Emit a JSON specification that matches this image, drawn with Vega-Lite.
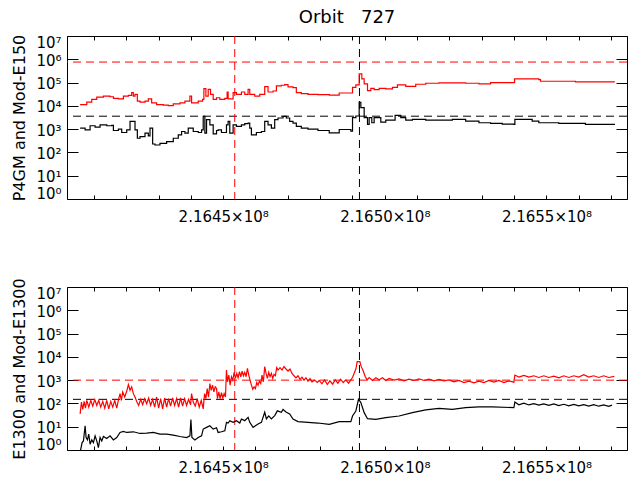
{
  "$schema": "https://vega.github.io/schema/vega-lite/v6.json",
  "background": "white",
  "padding": {"left": 11, "right": 7, "top": 8, "bottom": 5},
  "spacing": 52,
  "config": {
    "font": "DejaVu Sans",
    "view": {"stroke": "black", "strokeWidth": 1},
    "axis": {
      "domain": false, "grid": false,
      "labelFont": "DejaVu Sans", "labelFontSize": 15, "labelColor": "black",
      "tickColor": "black", "tickWidth": 1,
      "titleFont": "DejaVu Sans", "titleFontSize": 16, "titleFontWeight": "normal", "titleColor": "black",
      "labelOverlap": false
    },
    "title": {"font": "DejaVu Sans", "fontSize": 18, "fontWeight": "normal", "color": "black"}
  },
  "datasets": {
    "axes": [{"t": 216450000, "v": 1000}],
    "vlines": [{"t": 216453580, "s": "red"}, {"t": 216492155, "s": "black"}],
    "hTop": [{"v": 760000, "s": "red"}, {"v": 3600, "s": "black"}],
    "hBottom": [{"v": 1000, "s": "red"}, {"v": 150, "s": "black"}],
    "top": [
      {"t": 216405758, "v": 11400, "s": "red"}, {"t": 216406787, "v": 11400, "s": "red"}, {"t": 216407816, "v": 14400, "s": "red"},
      {"t": 216409360, "v": 18800, "s": "red"}, {"t": 216410903, "v": 23800, "s": "red"}, {"t": 216412961, "v": 26300, "s": "red"},
      {"t": 216415019, "v": 24600, "s": "red"}, {"t": 216416048, "v": 20800, "s": "red"}, {"t": 216417592, "v": 20100, "s": "red"},
      {"t": 216419135, "v": 26300, "s": "red"}, {"t": 216420679, "v": 28100, "s": "red"}, {"t": 216421708, "v": 36700, "s": "red"},
      {"t": 216422222, "v": 26300, "s": "red"}, {"t": 216422737, "v": 31100, "s": "red"}, {"t": 216423457, "v": 16000, "s": "red"},
      {"t": 216424280, "v": 14400, "s": "red"}, {"t": 216425824, "v": 16000, "s": "red"}, {"t": 216426853, "v": 20100, "s": "red"},
      {"t": 216427882, "v": 13500, "s": "red"}, {"t": 216429425, "v": 11400, "s": "red"}, {"t": 216431483, "v": 10700, "s": "red"},
      {"t": 216433027, "v": 10300, "s": "red"}, {"t": 216434570, "v": 12200, "s": "red"}, {"t": 216436628, "v": 13500, "s": "red"},
      {"t": 216438172, "v": 16000, "s": "red"}, {"t": 216439715, "v": 26300, "s": "red"}, {"t": 216440230, "v": 13500, "s": "red"},
      {"t": 216442288, "v": 16000, "s": "red"}, {"t": 216443625, "v": 18800, "s": "red"}, {"t": 216444037, "v": 54800, "s": "red"},
      {"t": 216444654, "v": 26300, "s": "red"}, {"t": 216445375, "v": 51300, "s": "red"}, {"t": 216446095, "v": 31100, "s": "red"},
      {"t": 216446918, "v": 18800, "s": "red"}, {"t": 216447947, "v": 22300, "s": "red"}, {"t": 216448962, "v": 18800, "s": "red"},
      {"t": 216450505, "v": 20800, "s": "red"}, {"t": 216451225, "v": 39300, "s": "red"}, {"t": 216451534, "v": 20100, "s": "red"},
      {"t": 216453078, "v": 36700, "s": "red"}, {"t": 216454107, "v": 31100, "s": "red"}, {"t": 216455650, "v": 39300, "s": "red"},
      {"t": 216456679, "v": 31100, "s": "red"}, {"t": 216457708, "v": 51300, "s": "red"}, {"t": 216458223, "v": 31100, "s": "red"},
      {"t": 216459766, "v": 26300, "s": "red"}, {"t": 216461310, "v": 31100, "s": "red"}, {"t": 216462853, "v": 67000, "s": "red"},
      {"t": 216463882, "v": 39300, "s": "red"}, {"t": 216465426, "v": 43400, "s": "red"}, {"t": 216466455, "v": 71600, "s": "red"},
      {"t": 216467998, "v": 76600, "s": "red"}, {"t": 216469027, "v": 81900, "s": "red"}, {"t": 216470056, "v": 64800, "s": "red"},
      {"t": 216471600, "v": 60600, "s": "red"}, {"t": 216472629, "v": 36700, "s": "red"}, {"t": 216474172, "v": 33200, "s": "red"},
      {"t": 216476230, "v": 31100, "s": "red"}, {"t": 216479317, "v": 30100, "s": "red"}, {"t": 216482805, "v": 29100, "s": "red"},
      {"t": 216485892, "v": 35600, "s": "red"}, {"t": 216489494, "v": 35600, "s": "red"}, {"t": 216490008, "v": 62700, "s": "red"},
      {"t": 216491037, "v": 79300, "s": "red"}, {"t": 216492066, "v": 238000, "s": "red"}, {"t": 216492889, "v": 144000, "s": "red"},
      {"t": 216493610, "v": 87500, "s": "red"}, {"t": 216494639, "v": 44900, "s": "red"}, {"t": 216495668, "v": 56800, "s": "red"},
      {"t": 216496697, "v": 49700, "s": "red"}, {"t": 216498240, "v": 56800, "s": "red"}, {"t": 216500298, "v": 53100, "s": "red"},
      {"t": 216502356, "v": 62700, "s": "red"}, {"t": 216503900, "v": 79300, "s": "red"}, {"t": 216506472, "v": 69300, "s": "red"},
      {"t": 216509559, "v": 84700, "s": "red"}, {"t": 216512646, "v": 93500, "s": "red"}, {"t": 216516762, "v": 96800, "s": "red"},
      {"t": 216520878, "v": 96800, "s": "red"}, {"t": 216524994, "v": 93500, "s": "red"}, {"t": 216529110, "v": 87500, "s": "red"},
      {"t": 216532712, "v": 100000, "s": "red"}, {"t": 216539915, "v": 100000, "s": "red"}, {"t": 216540120, "v": 144000, "s": "red"},
      {"t": 216547632, "v": 135000, "s": "red"}, {"t": 216548147, "v": 114000, "s": "red"}, {"t": 216558951, "v": 107000, "s": "red"},
      {"t": 216570990, "v": 103000, "s": "red"},
      {"t": 216405758, "v": 1100, "s": "black"}, {"t": 216407302, "v": 935, "s": "black"}, {"t": 216408845, "v": 1400, "s": "black"},
      {"t": 216410389, "v": 1220, "s": "black"}, {"t": 216411932, "v": 1540, "s": "black"}, {"t": 216413990, "v": 1400, "s": "black"},
      {"t": 216415534, "v": 1440, "s": "black"}, {"t": 216416048, "v": 875, "s": "black"}, {"t": 216417592, "v": 1000, "s": "black"},
      {"t": 216418621, "v": 716, "s": "black"}, {"t": 216420164, "v": 935, "s": "black"}, {"t": 216421193, "v": 2150, "s": "black"},
      {"t": 216422016, "v": 2150, "s": "black"}, {"t": 216422737, "v": 935, "s": "black"}, {"t": 216423457, "v": 406, "s": "black"},
      {"t": 216424280, "v": 480, "s": "black"}, {"t": 216425824, "v": 670, "s": "black"}, {"t": 216426853, "v": 513, "s": "black"},
      {"t": 216427367, "v": 1100, "s": "black"}, {"t": 216428190, "v": 230, "s": "black"}, {"t": 216428911, "v": 208, "s": "black"},
      {"t": 216430454, "v": 246, "s": "black"}, {"t": 216432512, "v": 291, "s": "black"}, {"t": 216434570, "v": 406, "s": "black"},
      {"t": 216436114, "v": 567, "s": "black"}, {"t": 216437143, "v": 792, "s": "black"}, {"t": 216438172, "v": 670, "s": "black"},
      {"t": 216439201, "v": 1100, "s": "black"}, {"t": 216440744, "v": 792, "s": "black"}, {"t": 216442288, "v": 716, "s": "black"},
      {"t": 216443317, "v": 935, "s": "black"}, {"t": 216443831, "v": 3560, "s": "black"}, {"t": 216444346, "v": 670, "s": "black"},
      {"t": 216444860, "v": 2540, "s": "black"}, {"t": 216445889, "v": 1540, "s": "black"}, {"t": 216446918, "v": 627, "s": "black"},
      {"t": 216447947, "v": 875, "s": "black"}, {"t": 216448447, "v": 935, "s": "black"}, {"t": 216449476, "v": 716, "s": "black"},
      {"t": 216451020, "v": 1540, "s": "black"}, {"t": 216451534, "v": 2150, "s": "black"}, {"t": 216452049, "v": 670, "s": "black"},
      {"t": 216453078, "v": 1540, "s": "black"}, {"t": 216454107, "v": 1310, "s": "black"}, {"t": 216455650, "v": 1540, "s": "black"},
      {"t": 216456679, "v": 1710, "s": "black"}, {"t": 216457708, "v": 1820, "s": "black"}, {"t": 216458223, "v": 1100, "s": "black"},
      {"t": 216458737, "v": 567, "s": "black"}, {"t": 216460281, "v": 716, "s": "black"}, {"t": 216461824, "v": 792, "s": "black"},
      {"t": 216462853, "v": 2150, "s": "black"}, {"t": 216463882, "v": 1540, "s": "black"}, {"t": 216464911, "v": 1100, "s": "black"},
      {"t": 216465940, "v": 2540, "s": "black"}, {"t": 216466969, "v": 3010, "s": "black"}, {"t": 216468513, "v": 3560, "s": "black"},
      {"t": 216469542, "v": 3010, "s": "black"}, {"t": 216470571, "v": 2150, "s": "black"}, {"t": 216471600, "v": 1820, "s": "black"},
      {"t": 216472629, "v": 1310, "s": "black"}, {"t": 216474172, "v": 1100, "s": "black"}, {"t": 216476230, "v": 1000, "s": "black"},
      {"t": 216479317, "v": 875, "s": "black"}, {"t": 216482805, "v": 693, "s": "black"}, {"t": 216485892, "v": 967, "s": "black"},
      {"t": 216489494, "v": 819, "s": "black"}, {"t": 216490008, "v": 3110, "s": "black"}, {"t": 216491037, "v": 3670, "s": "black"},
      {"t": 216492066, "v": 14000, "s": "black"}, {"t": 216492580, "v": 8470, "s": "black"}, {"t": 216493610, "v": 3110, "s": "black"},
      {"t": 216494639, "v": 1600, "s": "black"}, {"t": 216495153, "v": 3110, "s": "black"}, {"t": 216495976, "v": 1880, "s": "black"},
      {"t": 216496697, "v": 3110, "s": "black"}, {"t": 216497726, "v": 3110, "s": "black"}, {"t": 216498755, "v": 2010, "s": "black"},
      {"t": 216500298, "v": 2460, "s": "black"}, {"t": 216501842, "v": 2460, "s": "black"}, {"t": 216503179, "v": 3930, "s": "black"},
      {"t": 216504929, "v": 3110, "s": "black"}, {"t": 216506472, "v": 2460, "s": "black"}, {"t": 216508530, "v": 2630, "s": "black"},
      {"t": 216512646, "v": 2460, "s": "black"}, {"t": 216516762, "v": 2460, "s": "black"}, {"t": 216520878, "v": 2630, "s": "black"},
      {"t": 216524994, "v": 2230, "s": "black"}, {"t": 216529110, "v": 1880, "s": "black"}, {"t": 216532712, "v": 1760, "s": "black"},
      {"t": 216536313, "v": 1650, "s": "black"}, {"t": 216539915, "v": 1600, "s": "black"}, {"t": 216540223, "v": 2630, "s": "black"},
      {"t": 216545574, "v": 2230, "s": "black"}, {"t": 216547632, "v": 1880, "s": "black"}, {"t": 216553806, "v": 1760, "s": "black"},
      {"t": 216562038, "v": 1600, "s": "black"}, {"t": 216570990, "v": 1490, "s": "black"}
    ],
    "bottom": [
      {"t": 216405758, "v": 35.6, "s": "red"}, {"t": 216406170, "v": 114, "s": "red"}, {"t": 216406581, "v": 54.8, "s": "red"},
      {"t": 216406993, "v": 122, "s": "red"}, {"t": 216407404, "v": 62.7, "s": "red"}, {"t": 216407816, "v": 135, "s": "red"},
      {"t": 216408433, "v": 69.3, "s": "red"}, {"t": 216409051, "v": 135, "s": "red"}, {"t": 216409668, "v": 76.6, "s": "red"},
      {"t": 216410286, "v": 149, "s": "red"}, {"t": 216410903, "v": 81.9, "s": "red"}, {"t": 216411520, "v": 135, "s": "red"},
      {"t": 216412138, "v": 69.3, "s": "red"}, {"t": 216412755, "v": 122, "s": "red"}, {"t": 216413373, "v": 62.7, "s": "red"},
      {"t": 216413990, "v": 135, "s": "red"}, {"t": 216414607, "v": 58.6, "s": "red"}, {"t": 216415225, "v": 122, "s": "red"},
      {"t": 216415842, "v": 69.3, "s": "red"}, {"t": 216416460, "v": 135, "s": "red"}, {"t": 216417077, "v": 62.7, "s": "red"},
      {"t": 216417694, "v": 160, "s": "red"}, {"t": 216418106, "v": 263, "s": "red"}, {"t": 216418518, "v": 135, "s": "red"},
      {"t": 216418929, "v": 311, "s": "red"}, {"t": 216419547, "v": 188, "s": "red"}, {"t": 216420164, "v": 332, "s": "red"},
      {"t": 216420679, "v": 649, "s": "red"}, {"t": 216421193, "v": 367, "s": "red"}, {"t": 216421708, "v": 513, "s": "red"},
      {"t": 216422222, "v": 263, "s": "red"}, {"t": 216422737, "v": 188, "s": "red"}, {"t": 216423251, "v": 122, "s": "red"},
      {"t": 216423868, "v": 81.9, "s": "red"}, {"t": 216424486, "v": 149, "s": "red"}, {"t": 216425103, "v": 87.5, "s": "red"},
      {"t": 216425721, "v": 160, "s": "red"}, {"t": 216426338, "v": 96.8, "s": "red"}, {"t": 216426955, "v": 171, "s": "red"},
      {"t": 216427573, "v": 81.9, "s": "red"}, {"t": 216428190, "v": 149, "s": "red"}, {"t": 216428808, "v": 69.3, "s": "red"},
      {"t": 216429425, "v": 188, "s": "red"}, {"t": 216430042, "v": 62.7, "s": "red"}, {"t": 216430660, "v": 160, "s": "red"},
      {"t": 216431277, "v": 58.6, "s": "red"}, {"t": 216431895, "v": 171, "s": "red"}, {"t": 216432512, "v": 69.3, "s": "red"},
      {"t": 216433129, "v": 160, "s": "red"}, {"t": 216433747, "v": 76.6, "s": "red"}, {"t": 216434364, "v": 171, "s": "red"},
      {"t": 216434982, "v": 81.9, "s": "red"}, {"t": 216435599, "v": 160, "s": "red"}, {"t": 216436216, "v": 69.3, "s": "red"},
      {"t": 216436834, "v": 171, "s": "red"}, {"t": 216437451, "v": 76.6, "s": "red"}, {"t": 216438069, "v": 160, "s": "red"},
      {"t": 216438686, "v": 81.9, "s": "red"}, {"t": 216439303, "v": 149, "s": "red"}, {"t": 216439921, "v": 87.5, "s": "red"},
      {"t": 216440230, "v": 263, "s": "red"}, {"t": 216440744, "v": 114, "s": "red"}, {"t": 216441361, "v": 76.6, "s": "red"},
      {"t": 216441979, "v": 160, "s": "red"}, {"t": 216442596, "v": 69.3, "s": "red"}, {"t": 216443214, "v": 135, "s": "red"},
      {"t": 216443831, "v": 58.6, "s": "red"}, {"t": 216444243, "v": 263, "s": "red"}, {"t": 216444654, "v": 160, "s": "red"},
      {"t": 216445066, "v": 434, "s": "red"}, {"t": 216445477, "v": 188, "s": "red"}, {"t": 216445889, "v": 717, "s": "red"},
      {"t": 216446301, "v": 367, "s": "red"}, {"t": 216446712, "v": 607, "s": "red"}, {"t": 216447124, "v": 311, "s": "red"},
      {"t": 216447535, "v": 513, "s": "red"}, {"t": 216447947, "v": 434, "s": "red"}, {"t": 216448241, "v": 160, "s": "red"},
      {"t": 216448653, "v": 311, "s": "red"}, {"t": 216449064, "v": 160, "s": "red"}, {"t": 216449476, "v": 291, "s": "red"},
      {"t": 216449888, "v": 171, "s": "red"}, {"t": 216450299, "v": 263, "s": "red"}, {"t": 216450711, "v": 188, "s": "red"},
      {"t": 216451020, "v": 2720, "s": "red"}, {"t": 216451328, "v": 847, "s": "red"}, {"t": 216451740, "v": 1650, "s": "red"},
      {"t": 216452151, "v": 607, "s": "red"}, {"t": 216452563, "v": 1400, "s": "red"}, {"t": 216452975, "v": 1000, "s": "red"},
      {"t": 216453386, "v": 2150, "s": "red"}, {"t": 216453798, "v": 1180, "s": "red"}, {"t": 216454209, "v": 1950, "s": "red"},
      {"t": 216454621, "v": 1260, "s": "red"}, {"t": 216455033, "v": 2300, "s": "red"}, {"t": 216455444, "v": 1400, "s": "red"},
      {"t": 216455856, "v": 2460, "s": "red"}, {"t": 216456267, "v": 1540, "s": "red"}, {"t": 216456679, "v": 2150, "s": "red"},
      {"t": 216457091, "v": 1400, "s": "red"}, {"t": 216457502, "v": 3210, "s": "red"}, {"t": 216457914, "v": 1650, "s": "red"},
      {"t": 216458325, "v": 1000, "s": "red"}, {"t": 216458737, "v": 607, "s": "red"}, {"t": 216459149, "v": 406, "s": "red"},
      {"t": 216459560, "v": 513, "s": "red"}, {"t": 216459972, "v": 434, "s": "red"}, {"t": 216460383, "v": 792, "s": "red"},
      {"t": 216460795, "v": 607, "s": "red"}, {"t": 216461207, "v": 906, "s": "red"}, {"t": 216461618, "v": 717, "s": "red"},
      {"t": 216462030, "v": 1650, "s": "red"}, {"t": 216462441, "v": 847, "s": "red"}, {"t": 216462853, "v": 3800, "s": "red"},
      {"t": 216463265, "v": 1950, "s": "red"}, {"t": 216463676, "v": 1180, "s": "red"}, {"t": 216464088, "v": 2150, "s": "red"},
      {"t": 216464499, "v": 1400, "s": "red"}, {"t": 216464911, "v": 1950, "s": "red"}, {"t": 216465323, "v": 1180, "s": "red"},
      {"t": 216465734, "v": 1760, "s": "red"}, {"t": 216466146, "v": 1540, "s": "red"}, {"t": 216466557, "v": 3440, "s": "red"},
      {"t": 216466969, "v": 2720, "s": "red"}, {"t": 216467586, "v": 3440, "s": "red"}, {"t": 216468204, "v": 2720, "s": "red"},
      {"t": 216468821, "v": 3800, "s": "red"}, {"t": 216469439, "v": 3010, "s": "red"}, {"t": 216470056, "v": 2460, "s": "red"},
      {"t": 216470673, "v": 3010, "s": "red"}, {"t": 216471291, "v": 1950, "s": "red"}, {"t": 216471908, "v": 1540, "s": "red"},
      {"t": 216472526, "v": 1260, "s": "red"}, {"t": 216473143, "v": 1540, "s": "red"}, {"t": 216473761, "v": 1100, "s": "red"},
      {"t": 216474378, "v": 1350, "s": "red"}, {"t": 216474996, "v": 1000, "s": "red"}, {"t": 216475613, "v": 1260, "s": "red"},
      {"t": 216476230, "v": 906, "s": "red"}, {"t": 216476848, "v": 1180, "s": "red"}, {"t": 216477465, "v": 847, "s": "red"},
      {"t": 216478288, "v": 1000, "s": "red"}, {"t": 216479111, "v": 792, "s": "red"}, {"t": 216479718, "v": 968, "s": "red"},
      {"t": 216480541, "v": 695, "s": "red"}, {"t": 216481364, "v": 1030, "s": "red"}, {"t": 216482188, "v": 650, "s": "red"},
      {"t": 216483011, "v": 936, "s": "red"}, {"t": 216483834, "v": 672, "s": "red"}, {"t": 216484657, "v": 1030, "s": "red"},
      {"t": 216485480, "v": 743, "s": "red"}, {"t": 216486304, "v": 1100, "s": "red"}, {"t": 216487127, "v": 792, "s": "red"},
      {"t": 216487950, "v": 1030, "s": "red"}, {"t": 216488773, "v": 743, "s": "red"}, {"t": 216489494, "v": 1030, "s": "red"},
      {"t": 216490008, "v": 1300, "s": "red"}, {"t": 216491037, "v": 2990, "s": "red"}, {"t": 216491449, "v": 6180, "s": "red"},
      {"t": 216492272, "v": 6180, "s": "red"}, {"t": 216492683, "v": 3890, "s": "red"}, {"t": 216493301, "v": 2530, "s": "red"},
      {"t": 216493918, "v": 1440, "s": "red"}, {"t": 216494536, "v": 1030, "s": "red"}, {"t": 216495153, "v": 1300, "s": "red"},
      {"t": 216496182, "v": 968, "s": "red"}, {"t": 216497211, "v": 1260, "s": "red"}, {"t": 216498240, "v": 1030, "s": "red"},
      {"t": 216499269, "v": 1260, "s": "red"}, {"t": 216500298, "v": 968, "s": "red"}, {"t": 216501327, "v": 1180, "s": "red"},
      {"t": 216502871, "v": 1000, "s": "red"}, {"t": 216504414, "v": 1140, "s": "red"}, {"t": 216505958, "v": 936, "s": "red"},
      {"t": 216507501, "v": 1100, "s": "red"}, {"t": 216509045, "v": 968, "s": "red"}, {"t": 216510588, "v": 1140, "s": "red"},
      {"t": 216512132, "v": 968, "s": "red"}, {"t": 216513675, "v": 1100, "s": "red"}, {"t": 216515219, "v": 936, "s": "red"},
      {"t": 216516762, "v": 1070, "s": "red"}, {"t": 216518306, "v": 936, "s": "red"}, {"t": 216519849, "v": 1030, "s": "red"},
      {"t": 216521393, "v": 847, "s": "red"}, {"t": 216522936, "v": 968, "s": "red"}, {"t": 216524480, "v": 792, "s": "red"},
      {"t": 216526023, "v": 906, "s": "red"}, {"t": 216527567, "v": 767, "s": "red"}, {"t": 216529110, "v": 906, "s": "red"},
      {"t": 216530654, "v": 792, "s": "red"}, {"t": 216532197, "v": 968, "s": "red"}, {"t": 216533741, "v": 820, "s": "red"},
      {"t": 216535284, "v": 968, "s": "red"}, {"t": 216536828, "v": 792, "s": "red"}, {"t": 216538371, "v": 936, "s": "red"},
      {"t": 216539915, "v": 820, "s": "red"}, {"t": 216540223, "v": 1650, "s": "red"}, {"t": 216541458, "v": 1350, "s": "red"},
      {"t": 216543002, "v": 1590, "s": "red"}, {"t": 216544545, "v": 1350, "s": "red"}, {"t": 216546089, "v": 1540, "s": "red"},
      {"t": 216547632, "v": 1300, "s": "red"}, {"t": 216549176, "v": 1540, "s": "red"}, {"t": 216550719, "v": 1300, "s": "red"},
      {"t": 216552263, "v": 1490, "s": "red"}, {"t": 216553806, "v": 1260, "s": "red"}, {"t": 216555350, "v": 1540, "s": "red"},
      {"t": 216556893, "v": 1300, "s": "red"}, {"t": 216558437, "v": 1540, "s": "red"}, {"t": 216559980, "v": 1350, "s": "red"},
      {"t": 216561524, "v": 1700, "s": "red"}, {"t": 216563067, "v": 1350, "s": "red"}, {"t": 216564611, "v": 1540, "s": "red"},
      {"t": 216566154, "v": 1300, "s": "red"}, {"t": 216567698, "v": 1540, "s": "red"}, {"t": 216569241, "v": 1300, "s": "red"},
      {"t": 216570990, "v": 1440, "s": "red"},
      {"t": 216405758, "v": 0.8, "s": "black"}, {"t": 216406375, "v": 2.08, "s": "black"}, {"t": 216406787, "v": 2.46, "s": "black"},
      {"t": 216407302, "v": 11.0, "s": "black"}, {"t": 216407610, "v": 3.44, "s": "black"}, {"t": 216408022, "v": 2.72, "s": "black"},
      {"t": 216408433, "v": 4.80, "s": "black"}, {"t": 216408845, "v": 1.76, "s": "black"}, {"t": 216409360, "v": 2.72, "s": "black"},
      {"t": 216409874, "v": 2.08, "s": "black"}, {"t": 216410389, "v": 4.06, "s": "black"}, {"t": 216410903, "v": 2.46, "s": "black"},
      {"t": 216411418, "v": 1.26, "s": "black"}, {"t": 216411932, "v": 3.44, "s": "black"}, {"t": 216412447, "v": 2.46, "s": "black"},
      {"t": 216412961, "v": 3.80, "s": "black"}, {"t": 216413990, "v": 3.11, "s": "black"}, {"t": 216415019, "v": 4.06, "s": "black"},
      {"t": 216416048, "v": 2.72, "s": "black"}, {"t": 216417077, "v": 3.44, "s": "black"}, {"t": 216418106, "v": 5.67, "s": "black"},
      {"t": 216419135, "v": 6.27, "s": "black"}, {"t": 216420164, "v": 5.67, "s": "black"}, {"t": 216422222, "v": 6.06, "s": "black"},
      {"t": 216424280, "v": 5.13, "s": "black"}, {"t": 216426338, "v": 5.30, "s": "black"}, {"t": 216428396, "v": 5.67, "s": "black"},
      {"t": 216430454, "v": 4.80, "s": "black"}, {"t": 216432512, "v": 4.80, "s": "black"}, {"t": 216434570, "v": 4.34, "s": "black"},
      {"t": 216436628, "v": 3.80, "s": "black"}, {"t": 216438686, "v": 3.44, "s": "black"}, {"t": 216439715, "v": 4.06, "s": "black"},
      {"t": 216440024, "v": 20.1, "s": "black"}, {"t": 216440333, "v": 3.44, "s": "black"}, {"t": 216441259, "v": 2.72, "s": "black"},
      {"t": 216442288, "v": 3.44, "s": "black"}, {"t": 216443317, "v": 4.06, "s": "black"}, {"t": 216443831, "v": 7.92, "s": "black"},
      {"t": 216444860, "v": 9.35, "s": "black"}, {"t": 216445889, "v": 11.0, "s": "black"}, {"t": 216446918, "v": 7.92, "s": "black"},
      {"t": 216447947, "v": 9.0, "s": "black"}, {"t": 216448447, "v": 5.67, "s": "black"}, {"t": 216449476, "v": 6.06, "s": "black"},
      {"t": 216450505, "v": 6.70, "s": "black"}, {"t": 216451020, "v": 15.4, "s": "black"}, {"t": 216451534, "v": 14.4, "s": "black"},
      {"t": 216452049, "v": 18.2, "s": "black"}, {"t": 216453078, "v": 15.4, "s": "black"}, {"t": 216454107, "v": 18.2, "s": "black"},
      {"t": 216455136, "v": 14.4, "s": "black"}, {"t": 216455650, "v": 21.5, "s": "black"}, {"t": 216456679, "v": 18.2, "s": "black"},
      {"t": 216457708, "v": 25.4, "s": "black"}, {"t": 216458223, "v": 15.4, "s": "black"}, {"t": 216459252, "v": 9.35, "s": "black"},
      {"t": 216459972, "v": 11.0, "s": "black"}, {"t": 216460795, "v": 13.1, "s": "black"}, {"t": 216461824, "v": 15.4, "s": "black"},
      {"t": 216462853, "v": 42.0, "s": "black"}, {"t": 216463367, "v": 21.5, "s": "black"}, {"t": 216464088, "v": 29.1, "s": "black"},
      {"t": 216464911, "v": 21.5, "s": "black"}, {"t": 216465940, "v": 30.1, "s": "black"}, {"t": 216466763, "v": 48.0, "s": "black"},
      {"t": 216467998, "v": 42.0, "s": "black"}, {"t": 216468513, "v": 54.8, "s": "black"}, {"t": 216469542, "v": 42.0, "s": "black"},
      {"t": 216470571, "v": 35.6, "s": "black"}, {"t": 216471600, "v": 21.5, "s": "black"}, {"t": 216473143, "v": 16.5, "s": "black"},
      {"t": 216476230, "v": 15.4, "s": "black"}, {"t": 216479317, "v": 14.4, "s": "black"}, {"t": 216482805, "v": 12.6, "s": "black"},
      {"t": 216485892, "v": 16.4, "s": "black"}, {"t": 216489494, "v": 16.4, "s": "black"}, {"t": 216490008, "v": 28.8, "s": "black"},
      {"t": 216491037, "v": 47.4, "s": "black"}, {"t": 216491860, "v": 151, "s": "black"}, {"t": 216492580, "v": 109, "s": "black"},
      {"t": 216493610, "v": 40.2, "s": "black"}, {"t": 216494639, "v": 22.1, "s": "black"}, {"t": 216497211, "v": 20.7, "s": "black"},
      {"t": 216500298, "v": 24.5, "s": "black"}, {"t": 216504414, "v": 28.8, "s": "black"}, {"t": 216508530, "v": 40.2, "s": "black"},
      {"t": 216512646, "v": 52.4, "s": "black"}, {"t": 216516762, "v": 61.8, "s": "black"}, {"t": 216520878, "v": 55.9, "s": "black"},
      {"t": 216524994, "v": 66.1, "s": "black"}, {"t": 216529110, "v": 70.6, "s": "black"}, {"t": 216533227, "v": 70.6, "s": "black"},
      {"t": 216539915, "v": 66.1, "s": "black"}, {"t": 216540223, "v": 116, "s": "black"}, {"t": 216541458, "v": 88, "s": "black"},
      {"t": 216543002, "v": 102, "s": "black"}, {"t": 216544545, "v": 86, "s": "black"}, {"t": 216546089, "v": 98, "s": "black"},
      {"t": 216547632, "v": 85, "s": "black"}, {"t": 216549176, "v": 96, "s": "black"}, {"t": 216550719, "v": 83, "s": "black"},
      {"t": 216552263, "v": 95, "s": "black"}, {"t": 216553806, "v": 81, "s": "black"}, {"t": 216555350, "v": 92, "s": "black"},
      {"t": 216556893, "v": 79, "s": "black"}, {"t": 216558437, "v": 90, "s": "black"}, {"t": 216559980, "v": 78, "s": "black"},
      {"t": 216561524, "v": 89, "s": "black"}, {"t": 216563067, "v": 77, "s": "black"}, {"t": 216564611, "v": 88, "s": "black"},
      {"t": 216566154, "v": 76, "s": "black"}, {"t": 216567698, "v": 86, "s": "black"}, {"t": 216569241, "v": 75, "s": "black"},
      {"t": 216570270, "v": 84, "s": "black"}
    ]
  },
  "vconcat": [
    {
      "title": {"text": "Orbit\u00a0\u00a0\u00a0727", "offset": 7},
      "width": 560,
      "height": 163,
      "resolve": {"axis": {"x": "independent", "y": "independent"}},
      "layer": [
        {
          "data": {"name": "hTop"},
          "mark": {"type": "rule", "strokeDash": [8, 5], "strokeWidth": 1},
          "encoding": {
            "y": {"field": "v", "type": "quantitative", "scale": {"type": "log", "domain": [1, 10000000], "nice": false}, "axis": null},
            "color": {"field": "s", "type": "nominal", "scale": {"domain": ["red", "black"], "range": ["#ff0000", "#000000"]}, "legend": null}
          }
        },
        {
          "data": {"name": "vlines"},
          "mark": {"type": "rule", "strokeDash": [8, 5], "strokeWidth": 1},
          "encoding": {
            "x": {"field": "t", "type": "quantitative", "scale": {"domain": [216401700, 216574900], "nice": false, "zero": false}, "axis": null},
            "color": {"field": "s", "type": "nominal", "legend": null}
          }
        },
        {
          "data": {"name": "top"},
          "mark": {"type": "line", "interpolate": "step-after", "strokeWidth": 1.2, "clip": true},
          "encoding": {
            "x": {
              "field": "t", "type": "quantitative",
              "axis": {
                "orient": "bottom", "title": null, "offset": -4, "tickSize": 4, "labelPadding": 10, "labelFlush": false,
                "values": [216410000, 216420000, 216430000, 216440000, 216450000, 216460000, 216470000, 216480000, 216490000, 216500000, 216510000, 216520000, 216530000, 216540000, 216550000, 216560000, 216570000],
                "labelExpr": "datum.value % 50000 == 0 ? format(datum.value / 100000000, '.4f') + '×10⁸' : ''"
              }
            },
            "y": {
              "field": "v", "type": "quantitative",
              "axis": {
                "orient": "left", "title": "P4GM and Mod-E150", "titlePadding": 8, "offset": -11, "tickSize": 11, "labelPadding": 6, "labelFlush": false,
                "labelBaseline": "alphabetic",
                "labelOffset": {"condition": [{"test": "datum.value == 1", "value": -1}, {"test": "datum.value == 10000000", "value": 11}], "value": 6},
                "values": [1, 10, 100, 1000, 10000, 100000, 1000000, 10000000],
                "labelExpr": "'10' + substring('⁰¹²³⁴⁵⁶⁷', round(log(datum.value) / LN10), round(log(datum.value) / LN10) + 1)"
              }
            },
            "color": {"field": "s", "type": "nominal", "legend": null}
          }
        },
        {
          "data": {"name": "axes"},
          "mark": {"type": "point", "opacity": 0},
          "encoding": {
            "x": {"field": "t", "type": "quantitative", "axis": {"orient": "top", "title": null, "labels": false, "offset": -4, "tickSize": 4,
              "values": [216410000, 216420000, 216430000, 216440000, 216450000, 216460000, 216470000, 216480000, 216490000, 216500000, 216510000, 216520000, 216530000, 216540000, 216550000, 216560000, 216570000]}},
            "y": {"field": "v", "type": "quantitative", "axis": {"orient": "right", "title": null, "labels": false, "offset": -11, "tickSize": 11,
              "values": [1, 10, 100, 1000, 10000, 100000, 1000000, 10000000]}}
          }
        }
      ]
    },
    {
      "width": 560,
      "height": 163,
      "resolve": {"axis": {"x": "independent", "y": "independent"}},
      "layer": [
        {
          "data": {"name": "hBottom"},
          "mark": {"type": "rule", "strokeDash": [8, 5], "strokeWidth": 1},
          "encoding": {
            "y": {"field": "v", "type": "quantitative", "scale": {"type": "log", "domain": [1, 10000000], "nice": false}, "axis": null},
            "color": {"field": "s", "type": "nominal", "scale": {"domain": ["red", "black"], "range": ["#ff0000", "#000000"]}, "legend": null}
          }
        },
        {
          "data": {"name": "vlines"},
          "mark": {"type": "rule", "strokeDash": [8, 5], "strokeWidth": 1},
          "encoding": {
            "x": {"field": "t", "type": "quantitative", "scale": {"domain": [216401700, 216574900], "nice": false, "zero": false}, "axis": null},
            "color": {"field": "s", "type": "nominal", "legend": null}
          }
        },
        {
          "data": {"name": "bottom"},
          "mark": {"type": "line", "interpolate": "linear", "strokeWidth": 1.2, "clip": true},
          "encoding": {
            "x": {
              "field": "t", "type": "quantitative",
              "axis": {
                "orient": "bottom", "title": null, "offset": -4, "tickSize": 4, "labelPadding": 10, "labelFlush": false,
                "values": [216410000, 216420000, 216430000, 216440000, 216450000, 216460000, 216470000, 216480000, 216490000, 216500000, 216510000, 216520000, 216530000, 216540000, 216550000, 216560000, 216570000],
                "labelExpr": "datum.value % 50000 == 0 ? format(datum.value / 100000000, '.4f') + '×10⁸' : ''"
              }
            },
            "y": {
              "field": "v", "type": "quantitative",
              "axis": {
                "orient": "left", "title": "E1300 and Mod-E1300", "titlePadding": 8, "offset": -11, "tickSize": 11, "labelPadding": 6, "labelFlush": false,
                "labelBaseline": "alphabetic",
                "labelOffset": {"condition": [{"test": "datum.value == 1", "value": -1}, {"test": "datum.value == 10000000", "value": 11}], "value": 6},
                "values": [1, 10, 100, 1000, 10000, 100000, 1000000, 10000000],
                "labelExpr": "'10' + substring('⁰¹²³⁴⁵⁶⁷', round(log(datum.value) / LN10), round(log(datum.value) / LN10) + 1)"
              }
            },
            "color": {"field": "s", "type": "nominal", "legend": null}
          }
        },
        {
          "data": {"name": "axes"},
          "mark": {"type": "point", "opacity": 0},
          "encoding": {
            "x": {"field": "t", "type": "quantitative", "axis": {"orient": "top", "title": null, "labels": false, "offset": -4, "tickSize": 4,
              "values": [216410000, 216420000, 216430000, 216440000, 216450000, 216460000, 216470000, 216480000, 216490000, 216500000, 216510000, 216520000, 216530000, 216540000, 216550000, 216560000, 216570000]}},
            "y": {"field": "v", "type": "quantitative", "axis": {"orient": "right", "title": null, "labels": false, "offset": -11, "tickSize": 11,
              "values": [1, 10, 100, 1000, 10000, 100000, 1000000, 10000000]}}
          }
        }
      ]
    }
  ]
}
